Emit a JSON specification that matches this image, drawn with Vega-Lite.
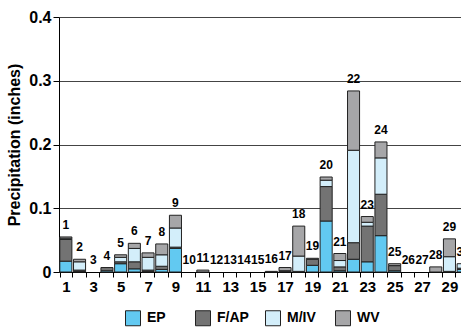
{
  "$schema": "https://vega.github.io/schema/vega-lite/v6.json",
  "width": 411,
  "height": 255,
  "autosize": {"type": "none"},
  "padding": {"left": 59, "top": 17, "right": 0, "bottom": 58},
  "background": "white",
  "config": {
    "view": {"stroke": null},
    "font": "Liberation Sans",
    "axis": {"labelFont": "Liberation Sans", "titleFont": "Liberation Sans", "labelFontWeight": "bold", "titleFontWeight": "bold", "labelColor": "#000", "titleColor": "#000"}
  },
  "data": {
    "values": [
      {"day": 1, "EP": 0.017, "F/AP": 0.034, "M/IV": 0.002, "WV": 0.002},
      {"day": 2, "EP": 0.001, "F/AP": 0.002, "M/IV": 0.013, "WV": 0.004},
      {"day": 3, "EP": 0, "F/AP": 0, "M/IV": 0, "WV": 0},
      {"day": 4, "EP": 0.002, "F/AP": 0.005, "M/IV": 0, "WV": 0},
      {"day": 5, "EP": 0.013, "F/AP": 0.003, "M/IV": 0.007, "WV": 0.004},
      {"day": 6, "EP": 0.005, "F/AP": 0.011, "M/IV": 0.021, "WV": 0.008},
      {"day": 7, "EP": 0.001, "F/AP": 0.002, "M/IV": 0.020, "WV": 0.007},
      {"day": 8, "EP": 0.004, "F/AP": 0.005, "M/IV": 0.018, "WV": 0.017},
      {"day": 9, "EP": 0.037, "F/AP": 0.002, "M/IV": 0.030, "WV": 0.020},
      {"day": 10, "EP": 0, "F/AP": 0, "M/IV": 0, "WV": 0},
      {"day": 11, "EP": 0, "F/AP": 0, "M/IV": 0, "WV": 0.003},
      {"day": 12, "EP": 0, "F/AP": 0, "M/IV": 0, "WV": 0},
      {"day": 13, "EP": 0, "F/AP": 0, "M/IV": 0, "WV": 0},
      {"day": 14, "EP": 0, "F/AP": 0, "M/IV": 0, "WV": 0},
      {"day": 15, "EP": 0, "F/AP": 0, "M/IV": 0, "WV": 0},
      {"day": 16, "EP": 0, "F/AP": 0.001, "M/IV": 0, "WV": 0},
      {"day": 17, "EP": 0, "F/AP": 0.001, "M/IV": 0.001, "WV": 0.005},
      {"day": 18, "EP": 0.001, "F/AP": 0, "M/IV": 0.024, "WV": 0.047},
      {"day": 19, "EP": 0.0105, "F/AP": 0.0095, "M/IV": 0, "WV": 0.0015},
      {"day": 20, "EP": 0.080, "F/AP": 0.054, "M/IV": 0.010, "WV": 0.005},
      {"day": 21, "EP": 0.002, "F/AP": 0.006, "M/IV": 0.010, "WV": 0.011},
      {"day": 22, "EP": 0.020, "F/AP": 0.026, "M/IV": 0.145, "WV": 0.093},
      {"day": 23, "EP": 0.016, "F/AP": 0.056, "M/IV": 0.006, "WV": 0.009},
      {"day": 24, "EP": 0.057, "F/AP": 0.065, "M/IV": 0.057, "WV": 0.025},
      {"day": 25, "EP": 0.002, "F/AP": 0.008, "M/IV": 0, "WV": 0.003},
      {"day": 26, "EP": 0, "F/AP": 0, "M/IV": 0, "WV": 0},
      {"day": 27, "EP": 0, "F/AP": 0, "M/IV": 0, "WV": 0},
      {"day": 28, "EP": 0, "F/AP": 0, "M/IV": 0, "WV": 0.008},
      {"day": 29, "EP": 0.001, "F/AP": 0, "M/IV": 0.023, "WV": 0.028},
      {"day": 30, "EP": 0.004, "F/AP": 0.002, "M/IV": 0.007, "WV": 0}
    ]
  },
  "transform": [{"fold": ["EP", "F/AP", "M/IV", "WV"], "as": ["type", "value"]}],
  "encoding": {
    "x": {
      "field": "day", "type": "ordinal",
      "scale": {"paddingInner": 0.12, "paddingOuter": 0.06},
      "axis": {
        "title": null, "labelAngle": 0, "tickBand": "extent", "tickSize": 5, "tickColor": "#000",
        "domainColor": "#000", "labelFontSize": 15, "labelPadding": 2,
        "labelExpr": "datum.value % 2 === 1 ? datum.label : ''"
      }
    }
  },
  "layer": [
    {
      "transform": [{"filter": "datum.value > 0"}],
      "mark": {"type": "bar", "stroke": "#222", "strokeWidth": 1},
      "encoding": {
        "y": {
          "field": "value", "type": "quantitative", "stack": "zero",
          "scale": {"domain": [0, 0.4], "nice": false},
          "axis": {
            "title": "Precipitation (inches)", "titleFontSize": 16, "titlePadding": 6,
            "values": [0, 0.05, 0.1, 0.15, 0.2, 0.25, 0.3, 0.35, 0.4],
            "labelExpr": "round(datum.value*100) % 10 === 0 ? (datum.value === 0 ? '0' : format(datum.value, '.1f')) : ''",
            "labelFontSize": 16, "labelPadding": 2, "tickSize": 6, "tickColor": "#000",
            "domainColor": "#000", "grid": true, "gridColor": "#444", "gridWidth": 1
          }
        },
        "order": {"field": "type", "sort": "ascending"},
        "color": {
          "field": "type", "type": "nominal",
          "scale": {"domain": ["EP", "F/AP", "M/IV", "WV"], "range": ["#62c9f1", "#737373", "#d3eefa", "#a6a6a8"]},
          "legend": {
            "title": null, "orient": "none", "legendX": 66, "legendY": 293, "direction": "horizontal",
            "symbolType": "square", "symbolSize": 225, "symbolStrokeColor": "#222", "symbolStrokeWidth": 1,
            "symbolOpacity": 1, "labelFontSize": 14, "labelFontWeight": "bold", "labelFont": "Liberation Sans",
            "labelColor": "#000", "columnPadding": 14, "gridAlign": "all", "labelOffset": 6
          }
        }
      }
    },
    {
      "transform": [{"aggregate": [{"op": "sum", "field": "value", "as": "total"}], "groupby": ["day"]}],
      "mark": {"type": "text", "font": "Liberation Sans", "fontWeight": "bold", "fontSize": 12, "baseline": "middle", "dy": -12, "color": "#000"},
      "encoding": {
        "y": {"field": "total", "type": "quantitative"},
        "text": {"field": "day", "type": "ordinal"}
      }
    }
  ]
}
